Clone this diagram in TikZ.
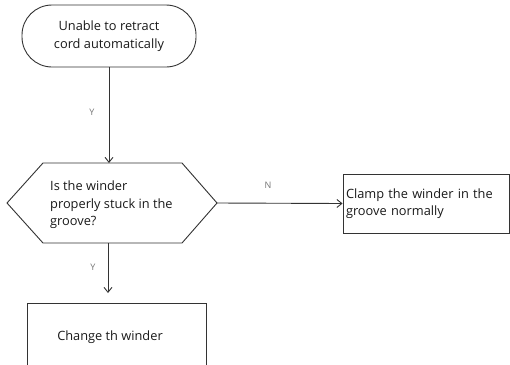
\documentclass[tikz,border=0pt]{standalone}
\usepackage{fontspec}
\setmainfont{Open Sans}
\usetikzlibrary{arrows.meta}
\begin{document}
\begin{tikzpicture}[x=1pt,y=-1pt,
  line/.style={draw=black!80, line width=0.9pt},
  arr/.style={line, -{Straight Barb[length=5pt,width=8pt]}},
  lbl/.style={font=\fontsize{9}{10}\selectfont, text=black!55},
  txt/.style={font=\fontsize{12.8}{17.5}\selectfont, text=black!90}]
\useasboundingbox (0,0) rectangle (510,364);
\clip (0,0) rectangle (510,364);
% terminal
\node[line, rounded corners=30pt, minimum width=174pt, minimum height=62pt, txt, align=center, inner sep=0pt] (start) at (109,36) {Unable to retract\\cord automatically};
% hexagon decision
\coordinate (hexL) at (7,203);
\coordinate (hexTL) at (43,163);
\coordinate (hexTR) at (182,163);
\coordinate (hexR) at (217,203);
\coordinate (hexBR) at (182,243);
\coordinate (hexBL) at (43,243);
\draw[line] (hexL) -- (hexTL) -- (hexTR) -- (hexR) -- (hexBR) -- (hexBL) -- cycle;
\coordinate (hexT) at (109,163);
\coordinate (hexB) at (108,243);
\node[txt, align=left, anchor=west, inner sep=0pt] (q) at (50,205) {Is the winder\\properly stuck in the\\groove?};
% right box
\node[line, minimum width=166pt, minimum height=59pt, txt, align=left, inner sep=0pt, text width=160pt] (clamp) at (426,203.5) {Clamp the winder in the\\groove normally};
% bottom box
\node[line, minimum width=179pt, minimum height=80pt, inner sep=0pt, anchor=north] (change) at (116.5,303) {};
\node[txt, inner sep=0pt] (changet) at (110,337) {Change th winder};
% connectors
\draw[arr] (start.south) -- (hexT);
\node[lbl] (y1) at (92,112) {Y};
\draw[arr] (hexR) -- (clamp.west);
\node[lbl] (n1) at (268,185) {N};
\draw[arr] (hexB) -- (108,293) coordinate (cTop);
\node[lbl] (y2) at (93,267) {Y};
\end{tikzpicture}
\end{document}
